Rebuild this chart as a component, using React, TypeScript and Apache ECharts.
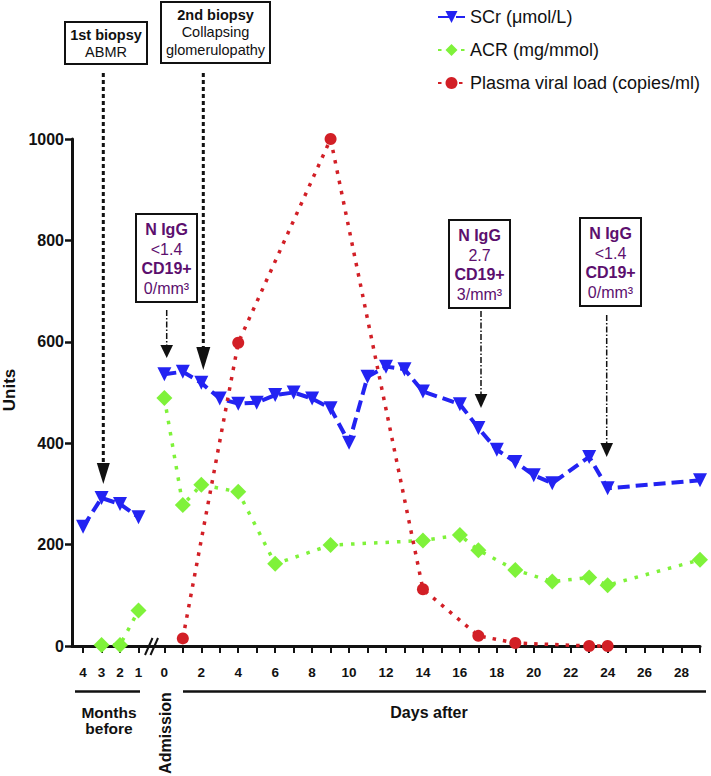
import React, { useEffect, useRef } from "react";
import * as echarts from "echarts";

// ---- data ----
const monthsBefore = [4, 3, 2, 1];
const scrMonths = [235, 292, 280, 254];
const acrMonths: (number | null)[] = [null, 2, 2, 70];

const scrDays = [0, 1, 2, 3, 4, 5, 6, 7, 8, 9, 10, 11, 12, 13, 14, 16, 17, 18, 19, 20, 21, 23, 24, 29];
const scrValues = [536, 541, 519, 488, 478, 480, 495, 500, 488, 469, 401, 531, 551, 546, 502, 477, 430, 387, 363, 337, 321, 373, 311, 327];

const acrDays = [0, 1, 2, 4, 6, 9, 14, 16, 17, 19, 21, 23, 24, 29];
const acrValues = [489, 278, 318, 304, 162, 199, 208, 219, 189, 150, 127, 135, 120, 170];

const pvlDays = [1, 4, 9, 14, 17, 19, 23, 24];
const pvlValues = [15, 598, 1000, 112, 20, 6, 0, 0];

const dayTicks = Array.from({ length: 30 }, (_, i) => i);
const dayLabels = dayTicks.filter((d) => d % 2 === 0 && d <= 28);

const seriesNames = ["SCr (μmol/L)", "ACR (mg/mmol)", "Plasma viral load (copies/ml)"];

// month position on the shared axis (left of the break)
const monthPos = (m: number) => -(m + 0.4);

const FONT = "'Liberation Sans', Arial, Helvetica, sans-serif";
const BLUE = "#2323f2";
const GREEN = "#7ff23a";
const RED = "#d21f26";
const PURPLE = "#5c0f6e";

function buildData(monthVals: (number | null)[] | null, days: number[], vals: number[]) {
  const out: any[] = [];
  if (monthVals) {
    monthsBefore.forEach((m, i) => {
      if (monthVals[i] !== null) out.push([monthPos(m), monthVals[i]]);
    });
    out.push([-0.7, "-"]);
  }
  days.forEach((d, i) => out.push([d, vals[i]]));
  return out;
}

function box(x: number, y: number, w: number, h: number) {
  return {
    type: "rect",
    shape: { x, y, width: w, height: h },
    style: { fill: "#fff", stroke: "#111", lineWidth: 2 },
    z: 10,
  };
}
function txt(text: string, x: number, y: number, size: number, bold: boolean, color = "#111", rotation = 0, lineHeight?: number) {
  return {
    type: "text",
    x,
    y,
    rotation,
    z: 11,
    style: {
      text,
      x: 0,
      y: 0,
      fill: color,
      fontFamily: FONT,
      fontSize: size,
      fontWeight: bold ? "bold" : "normal",
      lineHeight: lineHeight ?? size * 1.15,
      textAlign: "center",
      verticalAlign: "middle",
    },
  };
}
function vline(x: number, y1: number, y2: number, dash: number[], w: number) {
  return {
    type: "line",
    z: 10,
    shape: { x1: x, y1, x2: x, y2 },
    style: { stroke: "#111", lineWidth: w, lineDash: dash },
  };
}
function head(x: number, top: number, tip: number, halfW: number) {
  return {
    type: "polygon",
    z: 10,
    shape: { points: [[x - halfW, top], [x + halfW, top], [x, tip]] },
    style: { fill: "#111" },
  };
}
function hline(x1: number, x2: number, y: number, w: number) {
  return { type: "line", shape: { x1, y1: y, x2, y2: y }, style: { stroke: "#111", lineWidth: w } };
}
function purpleBox(x: number, top: number, lines: string[]) {
  const cx = x + 30.5;
  return [
    box(x, top, 61, 88),
    txt(lines[0], cx, top + 15, 16, true, PURPLE),
    txt(lines[1], cx, top + 35, 16, false, PURPLE),
    txt(lines[2], cx, top + 54, 16, true, PURPLE),
    txt(lines[3], cx, top + 74, 16, false, PURPLE),
  ];
}

export default function App() {
  const ref = useRef<HTMLDivElement>(null);
  useEffect(() => {
    if (!ref.current) return;
    const chart = echarts.init(ref.current, null, { renderer: "svg" });
    const option: any = {
      animation: false,
      backgroundColor: "#fff",
      legend: {
        orient: "vertical",
        left: 432,
        top: 3,
        itemWidth: 27,
        itemHeight: 15,
        itemGap: 15,
        textStyle: { fontFamily: FONT, fontSize: 18, color: "#111" },
        data: seriesNames,
      },
      grid: { left: 72, right: 11, top: 139, bottom: 130, outerBoundsMode: "none", containLabel: false },
      xAxis: {
        type: "value",
        min: -5,
        max: 29,
        splitLine: { show: false },
        axisLine: { onZero: false, lineStyle: { color: "#111", width: 3 } },
        axisTick: {
          customValues: [...monthsBefore.map(monthPos), ...dayTicks],
          length: 7,
          lineStyle: { color: "#111", width: 2 },
        },
        axisLabel: {
          customValues: [...monthsBefore.map(monthPos), ...dayLabels],
          margin: 19,
          fontFamily: FONT,
          fontWeight: "bold",
          fontSize: 13.5,
          color: "#111",
          formatter: (v: number) => (v < 0 ? String(Math.round(-v - 0.4)) : String(v)),
        },
      },
      yAxis: {
        type: "value",
        min: 0,
        max: 1000,
        interval: 200,
        splitLine: { show: false },
        axisLine: { show: true, onZero: false, lineStyle: { color: "#111", width: 3 } },
        axisTick: { show: true, length: 7, lineStyle: { color: "#111", width: 2.5 } },
        axisLabel: {
          margin: 8,
          fontFamily: FONT,
          fontWeight: "bold",
          fontSize: 16,
          color: "#111",
          formatter: (v: number) => String(v),
        },
      },
      series: [
        {
          name: seriesNames[0],
          type: "line",
          clip: false,
          data: buildData(scrMonths, scrDays, scrValues),
          symbol: "triangle",
          symbolRotate: 180,
          symbolSize: 14,
          itemStyle: { color: BLUE },
          lineStyle: { color: BLUE, width: 4, type: [12, 6] },
          z: 3,
        },
        {
          name: seriesNames[1],
          type: "line",
          clip: false,
          data: buildData(acrMonths, acrDays, acrValues),
          symbol: "diamond",
          symbolSize: 16,
          itemStyle: { color: GREEN },
          lineStyle: { color: GREEN, width: 3.5, type: [3.5, 8] },
          z: 4,
        },
        {
          name: seriesNames[2],
          type: "line",
          clip: false,
          data: buildData(null, pvlDays, pvlValues),
          symbol: "circle",
          symbolSize: 12,
          itemStyle: { color: RED },
          lineStyle: { color: RED, width: 3.5, type: [3.5, 7] },
          z: 5,
        },
      ],
      graphic: [
        // biopsy boxes
        box(65, 22, 82, 42),
        txt("1st biopsy", 106, 35, 14.5, true),
        txt("ABMR", 106, 52, 14.5, false),
        box(161, 2, 109, 61),
        txt("2nd biopsy", 215.5, 15, 14.5, true),
        txt("Collapsing", 215.5, 32, 14.5, false),
        txt("glomerulopathy", 215.5, 50, 14.5, false),
        vline(103.3, 73, 464, [4, 3], 3),
        head(103.3, 463, 484, 6.5),
        vline(203.3, 73, 348, [4, 3], 3),
        head(203.3, 347, 370, 7),
        // IgG / CD19 boxes
        ...purpleBox(136, 214, ["N IgG", "<1.4", "CD19+", "0/mm³"]),
        vline(166.7, 310, 346, [6, 2, 1.5, 2], 1.5),
        head(166.7, 345, 358, 6.3),
        ...purpleBox(449, 220, ["N IgG", "2.7", "CD19+", "3/mm³"]),
        vline(481, 311, 396, [6, 2, 1.5, 2], 1.5),
        head(481, 394, 408, 6.3),
        ...purpleBox(580, 218, ["N IgG", "<1.4", "CD19+", "0/mm³"]),
        vline(606.7, 315, 444, [6, 2, 1.5, 2], 1.5),
        head(606.7, 443, 457, 6.3),
        // axis break marks
        { type: "line", z: 12, shape: { x1: 145, y1: 655, x2: 152.5, y2: 638 }, style: { stroke: "#111", lineWidth: 2 } },
        { type: "line", z: 12, shape: { x1: 150.5, y1: 655, x2: 158, y2: 638 }, style: { stroke: "#111", lineWidth: 2 } },
        // group lines and labels below the axis
        hline(75, 140, 691.5, 2.5),
        hline(183, 706, 691.5, 2.5),
        txt("Months\nbefore", 109, 720.5, 15.5, true, "#111", 0, 15.5),
        txt("Admission", 165.7, 733, 16, true, "#111", Math.PI / 2),
        txt("Days after", 429, 712, 16, true),
        txt("Units", 9.5, 390, 17, true, "#111", Math.PI / 2),
      ],
    };
    chart.setOption(option);
    return () => chart.dispose();
  }, []);
  return (
    <div
      ref={ref}
      style={{ position: "fixed", left: 0, top: 0, width: 711, height: 776, background: "#fff" }}
    />
  );
}
